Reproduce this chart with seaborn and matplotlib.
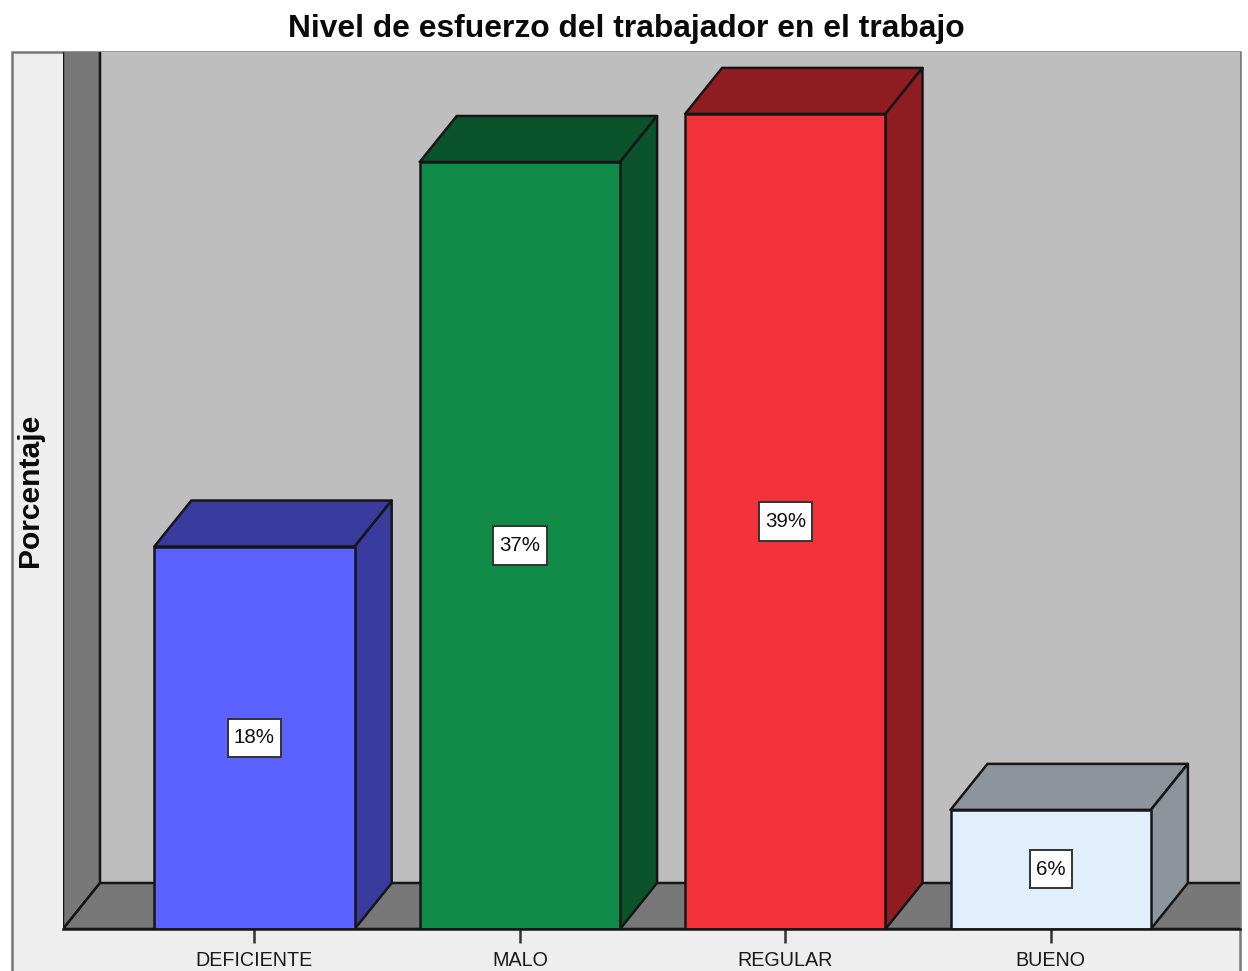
import matplotlib
matplotlib.use("Agg")
import matplotlib.pyplot as plt
from matplotlib.patches import Polygon, Rectangle
import pandas as pd
import seaborn as sns

categories = ["DEFICIENTE", "MALO", "REGULAR", "BUENO"]
values = [18.3, 36.7, 39.0, 5.7]
labels = ["18%", "37%", "39%", "6%"]
front_colors = ["#5b62ff", "#0f8b47", "#f23339", "#e1eefb"]
side_colors = ["#393b9e", "#0a532b", "#8f1d21", "#8d949c"]
title = "Nivel de esfuerzo del trabajador en el trabajo"
ylabel = "Porcentaje"

W, H = 1248, 971
EDGE = "#161616"
LW = 1.8

sns.set_theme(style="white")
plt.rcParams["font.family"] = ["Liberation Sans", "DejaVu Sans"]

fig = plt.figure(figsize=(W / 100, H / 100), dpi=100, facecolor="white")

# outer light panel
fig.add_artist(Rectangle((12 / W, -0.01), (1240 - 12) / W, 1.01 - 52 / H,
                         transform=fig.transFigure, facecolor="#eeeeee",
                         edgecolor="#777777", linewidth=1.8, zorder=-1))

ax_l, ax_r, ax_t, ax_b = 63, 1240, 52, 929
ax = fig.add_axes([ax_l / W, 1 - ax_b / H, (ax_r - ax_l) / W, (ax_b - ax_t) / H])
ax.set_facecolor("#bebebe")

df = pd.DataFrame({"cat": categories, "val": values})
sns.barplot(data=df, x="cat", y="val", hue="cat", order=categories, hue_order=categories,
            palette=front_colors, width=0.755, legend=False, ax=ax,
            edgecolor=EDGE, linewidth=LW, zorder=5, saturation=1)

px_per_cat = 265.4
px_per_val = 20.9
ax.set_xlim((ax_l - 254.5) / px_per_cat, (ax_r - 254.5) / px_per_cat)
ax.set_ylim(0, (ax_b - ax_t) / px_per_val)
xmin, xmax = ax.get_xlim()
ymax = ax.get_ylim()[1]
dx = 37 / px_per_cat
dy = 46 / px_per_val

# chart walls
ax.add_patch(Polygon([(xmin, 0), (xmin + dx, dy), (xmin + dx, ymax + 1), (xmin, ymax + 1)],
                     closed=True, facecolor="#787878", edgecolor=EDGE, linewidth=LW, zorder=2))
ax.add_patch(Polygon([(xmin, 0), (xmin + dx, dy), (xmax + 1, dy), (xmax + 1, 0)],
                     closed=True, facecolor="#787878", edgecolor=EDGE, linewidth=LW, zorder=2))

# depth faces and value labels
for bar, side, lab in zip(ax.patches[:4], side_colors, labels):
    x0, w, h = bar.get_x(), bar.get_width(), bar.get_height()
    x1 = x0 + w
    ax.add_patch(Polygon([(x0, h), (x0 + dx, h + dy), (x1 + dx, h + dy), (x1, h)],
                         closed=True, facecolor=side, edgecolor=EDGE, linewidth=LW,
                         joinstyle="round", zorder=4))
    ax.add_patch(Polygon([(x1, 0), (x1 + dx, dy), (x1 + dx, h + dy), (x1, h)],
                         closed=True, facecolor=side, edgecolor=EDGE, linewidth=LW,
                         joinstyle="round", zorder=4))
    ax.text(x0 + w / 2, h / 2, lab, ha="center", va="center", fontsize=14.8, color="#111111",
            zorder=8, bbox=dict(boxstyle="square,pad=0.3", facecolor="white",
                                edgecolor="#333333", linewidth=1.4, mutation_aspect=1.55))

ax.set_xlabel("")
ax.set_ylabel("")
ax.set_yticks([])
ax.set_xticks(range(len(categories)))
ax.set_xticklabels(categories, fontsize=14.2, color="#1a1a1a")
ax.tick_params(axis="x", bottom=True, length=10, width=1.8, color="#333333", pad=5.6)
for name, sp in ax.spines.items():
    sp.set_visible(name == "bottom")
ax.spines["bottom"].set_color(EDGE)
ax.spines["bottom"].set_linewidth(LW)
ax.spines["bottom"].set_zorder(7)

fig.text(626 / W, 1 - 28.5 / H, title, ha="center", va="center", fontsize=22.9,
         fontweight="bold", color="#0a0a0a")
fig.text(30 / W, 1 - 490 / H, ylabel, rotation=90, ha="center", va="center", fontsize=21.6,
         fontweight="bold", color="#0a0a0a")

fig.savefig("out.png", dpi=100, facecolor="white")
